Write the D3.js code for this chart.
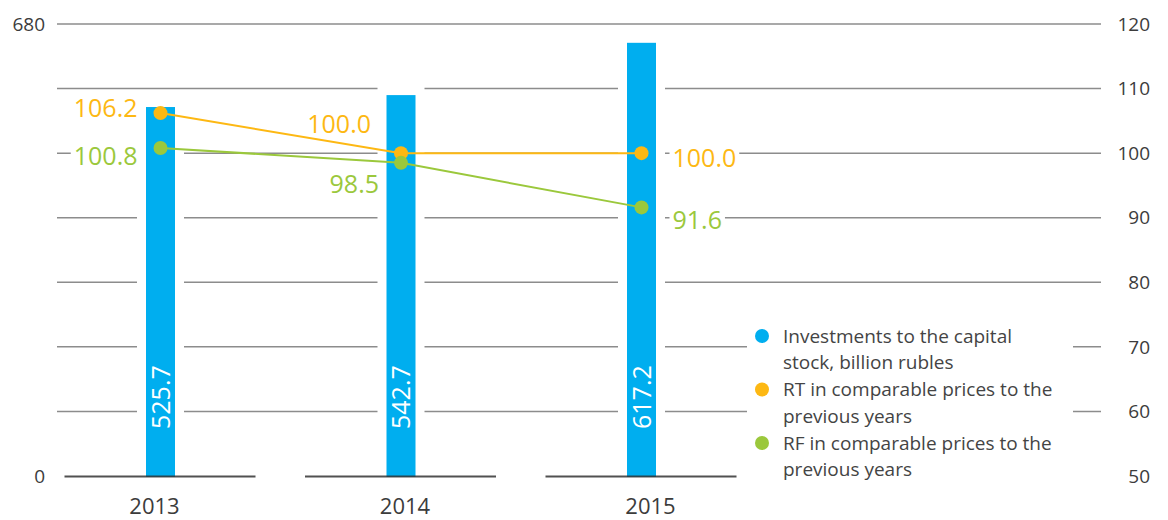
<!DOCTYPE html>
<html>
<head>
<meta charset="utf-8">
<script src="https://cdn.jsdelivr.net/npm/d3@7"></script>
<style>
  html, body { margin: 0; padding: 0; background: #fff; }
  svg { display: block; font-family: "Open Sans", "Noto Sans", sans-serif; }
</style>
</head>
<body>
<svg id="chart" width="1168" height="520"></svg>
<script>
// ---- data ----
const years = ["2013", "2014", "2015"];
const investments = [525.7, 542.7, 617.2];
const rtValues = [106.2, 100.0, 100.0];
const rfValues = [100.8, 98.5, 91.6];
const rightTicks = [50, 60, 70, 80, 90, 100, 110, 120];
const leftTicks = [0, 680];
const legendLabels = [
  ["Investments to the capital", "stock, billion rubles"],
  ["RT in comparable prices to the", "previous years"],
  ["RF in comparable prices to the", "previous years"]
];

// ---- styles ----
const BLUE = "#00aeef", ORANGE = "#fdb813", GREEN = "#9bc83c";
const GRID = "#8c8c8c", TEXT = "#3c3c3c";
const plotTop = 24, plotBottom = 476, gridLeft = 57, gridRight = 1101;
const barW = 29, gapPad = 9;
const yearLabelShift = [-6, 4, 9];

const svg = d3.select("#chart");

const x = d3.scalePoint().domain(years).range([160.5, 641.5]);
const yR = d3.scaleLinear().domain([50, 120]).range([plotBottom, plotTop]);
const yAxisLeft = d3.scaleLinear().domain([0, 680]).range([plotBottom, plotTop]);
const yBar = d3.scaleLinear().domain([0, 644]).range([plotBottom, plotTop]);

// gridlines with gaps around bars
const gridG = svg.append("g");
rightTicks.filter(t => t > 50).forEach(t => {
  const gy = yR(t);
  let gaps = [];
  if (t < 120) {
    years.forEach((yr, i) => {
      const bt = yBar(investments[i]);
      if (gy >= bt - 10) gaps.push([x(yr) - barW / 2 - gapPad, x(yr) + barW / 2 + gapPad]);
    });
  }
  let start = gridLeft;
  const segs = [];
  gaps.forEach(g => { segs.push([start, g[0]]); start = g[1]; });
  segs.push([start, gridRight]);
  segs.forEach(s => {
    gridG.append("line").attr("x1", s[0]).attr("x2", s[1])
      .attr("y1", gy).attr("y2", gy)
      .attr("stroke", GRID).attr("stroke-width", 1.5);
  });
});

// right axis labels
svg.append("g").selectAll("text").data(rightTicks).join("text")
  .attr("x", 1150).attr("y", d => yR(d)).attr("dy", "0.35em")
  .attr("text-anchor", "end").attr("font-size", 19).attr("fill", TEXT)
  .text(d => d);

// left axis labels
svg.append("g").selectAll("text").data(leftTicks).join("text")
  .attr("x", 45).attr("y", d => yAxisLeft(d)).attr("dy", "0.35em")
  .attr("text-anchor", "end").attr("font-size", 19).attr("fill", TEXT)
  .text(d => d);

// bars
svg.append("g").selectAll("rect").data(years).join("rect")
  .attr("x", d => x(d) - barW / 2).attr("width", barW)
  .attr("y", (d, i) => yBar(investments[i]))
  .attr("height", (d, i) => plotBottom - yBar(investments[i]) + 1)
  .attr("fill", BLUE);

// baseline segments
svg.append("g").selectAll("line").data(years).join("line")
  .attr("x1", d => x(d) - 96).attr("x2", d => x(d) + 95)
  .attr("y1", plotBottom + 0.5).attr("y2", plotBottom + 0.5)
  .attr("stroke", "#333").attr("stroke-opacity", 0.85).attr("stroke-width", 2);

// bar value labels (rotated)
svg.append("g").selectAll("text").data(years).join("text")
  .attr("transform", d => `translate(${x(d)},429) rotate(-90)`)
  .attr("dy", "0.36em").attr("font-size", 25).attr("fill", "#fff")
  .text((d, i) => investments[i].toFixed(1));

// year labels
svg.append("g").selectAll("text").data(years).join("text")
  .attr("x", (d, i) => x(d) + yearLabelShift[i]).attr("y", 514)
  .attr("text-anchor", "middle").attr("font-size", 22).attr("fill", TEXT)
  .text(d => d);

// lines + dots
const series = [
  { vals: rtValues, color: ORANGE,
    lbl: [{a: "end", dx: -23, dy: -5, bg: true}, {a: "end", dx: -30, dy: -29, bg: false}, {a: "start", dx: 31, dy: 5, bg: true}] },
  { vals: rfValues, color: GREEN,
    lbl: [{a: "end", dx: -23, dy: 8, bg: true}, {a: "end", dx: -22, dy: 21, bg: false}, {a: "start", dx: 31, dy: 13, bg: true}] }
];
const line = d3.line().x((d, i) => x(years[i])).y(d => yR(d));
series.forEach(s => {
  svg.append("path").attr("d", line(s.vals)).attr("fill", "none")
    .attr("stroke", s.color).attr("stroke-width", 2);
});
series.forEach(s => {
  svg.append("g").selectAll("circle").data(s.vals).join("circle")
    .attr("cx", (d, i) => x(years[i])).attr("cy", d => yR(d)).attr("r", 7)
    .attr("fill", s.color);
});
series.forEach(s => {
  s.vals.forEach((v, i) => {
    const L = s.lbl[i];
    const g = svg.append("g");
    const t = g.append("text")
      .attr("x", x(years[i]) + L.dx).attr("y", yR(v) + L.dy).attr("dy", "0.36em")
      .attr("text-anchor", L.a).attr("font-size", 25).attr("fill", s.color)
      .text(v.toFixed(1));
    if (L.bg) {
      const b = t.node().getBBox();
      g.insert("rect", "text").attr("x", b.x - 3).attr("y", b.y + 3)
        .attr("width", b.width + 6).attr("height", b.height - 6).attr("fill", "#fff");
    }
  });
});

// legend
const lg = svg.append("g");
lg.append("rect").attr("x", 747).attr("y", 318).attr("width", 326).attr("height", 162).attr("fill", "#fff");
const legendColors = [BLUE, ORANGE, GREEN];
legendLabels.forEach((lines, i) => {
  const cy = 336 + i * 53.5;
  lg.append("circle").attr("cx", 762).attr("cy", cy).attr("r", 7).attr("fill", legendColors[i]);
  lines.forEach((ln, j) => {
    lg.append("text").attr("x", 783).attr("y", cy + j * 26.5).attr("dy", "0.35em")
      .attr("font-size", 19).attr("fill", "#444").text(ln);
  });
});
</script>
</body>
</html>
